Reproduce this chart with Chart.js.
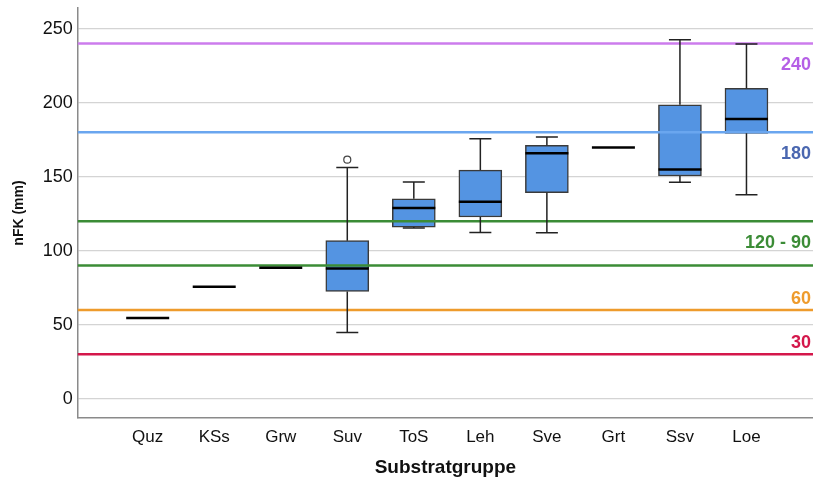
<!DOCTYPE html>
<html>
<head>
<meta charset="utf-8">
<script src="https://cdn.jsdelivr.net/npm/chart.js@4.4.1/dist/chart.umd.min.js"></script>
<style>
  html, body { margin: 0; padding: 0; background: #fff; }
  #wrap { width: 813px; height: 483px; }
</style>
</head>
<body>
<div id="wrap"><canvas id="boxChart"></canvas></div>
<script>
const categories = ['Quz', 'KSs', 'Grw', 'Suv', 'ToS', 'Leh', 'Sve', 'Grt', 'Ssv', 'Loe'];
const whiskerLow  = [54.5, 75.7, 88.5, 44.8, 115.3, 112.4, 112.2, 169.8, 146.2, 137.8];
const q1          = [54.5, 75.7, 88.5, 72.5, 116.0, 122.8, 139.2, 169.8, 150.5, 179.3];
const median      = [54.5, 75.7, 88.5, 88.0, 128.8, 133.1, 165.8, 169.8, 154.9, 189.0];
const q3          = [54.5, 75.7, 88.5, 106.8, 135.1, 154.5, 171.2, 169.8, 198.6, 209.7];
const whiskerHigh = [54.5, 75.7, 88.5, 156.3, 146.4, 175.7, 176.8, 169.8, 242.6, 239.6];
const outliers    = [[], [], [], [161.5], [], [], [], [], [], []];

const yTicks = [0, 50, 100, 150, 200, 250];

const refValues = [240, 180, 120, 90, 60, 30];
const refColors = ['#cc7ced', '#6aa6ef', '#3b8c36', '#3b8c36', '#ee9b2c', '#d4174b'];

const refLabels = ['240', '180', '120 - 90', '60', '30'];
const refLabelLine = [240, 180, 120, 60, 30];
const refLabelBelow = [true, true, true, false, false];
const refLabelColors = ['#b55fe6', '#4a67b0', '#3b8c36', '#ee9b2c', '#d4174b'];

const boxFill = '#5494e2';
const boxBorder = '#3a3a3a';
const FONT = '"Liberation Sans", Arial, sans-serif';

const boxPlugin = {
    id: 'boxExtras',
    afterDatasetsDraw(chart) {
        const ctx = chart.ctx;
        const x = chart.scales.x;
        const y = chart.scales.y;
        const area = chart.chartArea;
        const boxW = 43;
        const capW = 22;

        ctx.save();
        // reference lines
        refValues.forEach((v, i) => {
            const py = y.getPixelForValue(v);
            ctx.strokeStyle = refColors[i];
            ctx.lineWidth = 2.5;
            ctx.beginPath();
            ctx.moveTo(area.left, py);
            ctx.lineTo(area.right, py);
            ctx.stroke();
        });

        // whiskers, caps, medians, outliers
        categories.forEach((c, i) => {
            const cx = x.getPixelForValue(i + 1);
            const pLow = y.getPixelForValue(whiskerLow[i]);
            const pQ1 = y.getPixelForValue(q1[i]);
            const pQ3 = y.getPixelForValue(q3[i]);
            const pHigh = y.getPixelForValue(whiskerHigh[i]);
            const pMed = y.getPixelForValue(median[i]);

            ctx.strokeStyle = '#222';
            ctx.lineWidth = 1.5;
            if (whiskerHigh[i] > q3[i]) {
                ctx.beginPath();
                ctx.moveTo(cx, pQ3);
                ctx.lineTo(cx, pHigh);
                ctx.moveTo(cx - capW / 2, pHigh);
                ctx.lineTo(cx + capW / 2, pHigh);
                ctx.stroke();
            }
            if (whiskerLow[i] < q1[i]) {
                ctx.beginPath();
                ctx.moveTo(cx, pQ1);
                ctx.lineTo(cx, pLow);
                ctx.moveTo(cx - capW / 2, pLow);
                ctx.lineTo(cx + capW / 2, pLow);
                ctx.stroke();
            }

            ctx.strokeStyle = '#000';
            ctx.lineWidth = 2.5;
            ctx.beginPath();
            ctx.moveTo(cx - boxW / 2, pMed);
            ctx.lineTo(cx + boxW / 2, pMed);
            ctx.stroke();

            outliers[i].forEach((o) => {
                ctx.strokeStyle = '#444';
                ctx.lineWidth = 1.2;
                ctx.beginPath();
                ctx.arc(cx, y.getPixelForValue(o), 3.5, 0, Math.PI * 2);
                ctx.stroke();
            });
        });

        // reference labels
        ctx.font = 'bold 18px ' + FONT;
        ctx.textAlign = 'right';
        ctx.textBaseline = 'alphabetic';
        refLabels.forEach((t, i) => {
            const py = y.getPixelForValue(refLabelLine[i]);
            ctx.fillStyle = refLabelColors[i];
            ctx.fillText(t, area.right - 2, refLabelBelow[i] ? py + 26.5 : py - 6);
        });
        ctx.restore();
    }
};

new Chart(document.getElementById('boxChart').getContext('2d'), {
    type: 'bar',
    data: {
        datasets: [{
            data: categories.map((c, i) => ({ x: i + 1, y: [q1[i], q3[i]] })),
            backgroundColor: boxFill,
            borderColor: boxBorder,
            borderWidth: 1.5,
            borderSkipped: false,
            barThickness: 43
        }]
    },
    options: {
        responsive: true,
        maintainAspectRatio: false,
        animation: false,
        layout: { padding: { left: 4, right: 0, top: 8, bottom: 2 } },
        plugins: {
            legend: { display: false },
            tooltip: { enabled: false }
        },
        scales: {
            x: {
                type: 'linear',
                offset: false,
                min: -0.05,
                max: 11,
                afterBuildTicks: (axis) => {
                    axis.ticks = categories.map((c, i) => ({ value: i + 1 }));
                },
                afterFit: (axis) => {
                    axis.paddingLeft = 0;
                    axis.paddingRight = 0;
                    axis.height = 63;
                },
                ticks: {
                    callback: (v) => categories[v - 1],
                    color: '#111',
                    font: { family: FONT, size: 17 },
                    padding: 9,
                    maxRotation: 0,
                    autoSkip: false
                },
                grid: { display: false, drawTicks: false },
                border: { color: '#8a8a8a', width: 1.5 },
                title: {
                    display: true,
                    text: 'Substratgruppe',
                    color: '#111',
                    font: { family: FONT, size: 19, weight: 'bold' },
                    padding: { top: 9, bottom: 2 }
                }
            },
            y: {
                min: -13,
                max: 264,
                afterBuildTicks: (axis) => {
                    axis.ticks = yTicks.map((v) => ({ value: v }));
                },
                afterFit: (axis) => {
                    axis.paddingTop = 0;
                    axis.paddingBottom = 0;
                },
                ticks: {
                    color: '#111',
                    font: { family: FONT, size: 18 },
                    padding: 5
                },
                grid: { color: '#d4d4d4', lineWidth: 1.2, drawTicks: false },
                border: { color: '#8a8a8a', width: 1.5 },
                title: {
                    display: true,
                    text: 'nFK (mm)',
                    color: '#111',
                    font: { family: FONT, size: 14, weight: 'bold' },
                    padding: { top: 7, bottom: 10 }
                }
            }
        }
    },
    plugins: [boxPlugin]
});
</script>
</body>
</html>
